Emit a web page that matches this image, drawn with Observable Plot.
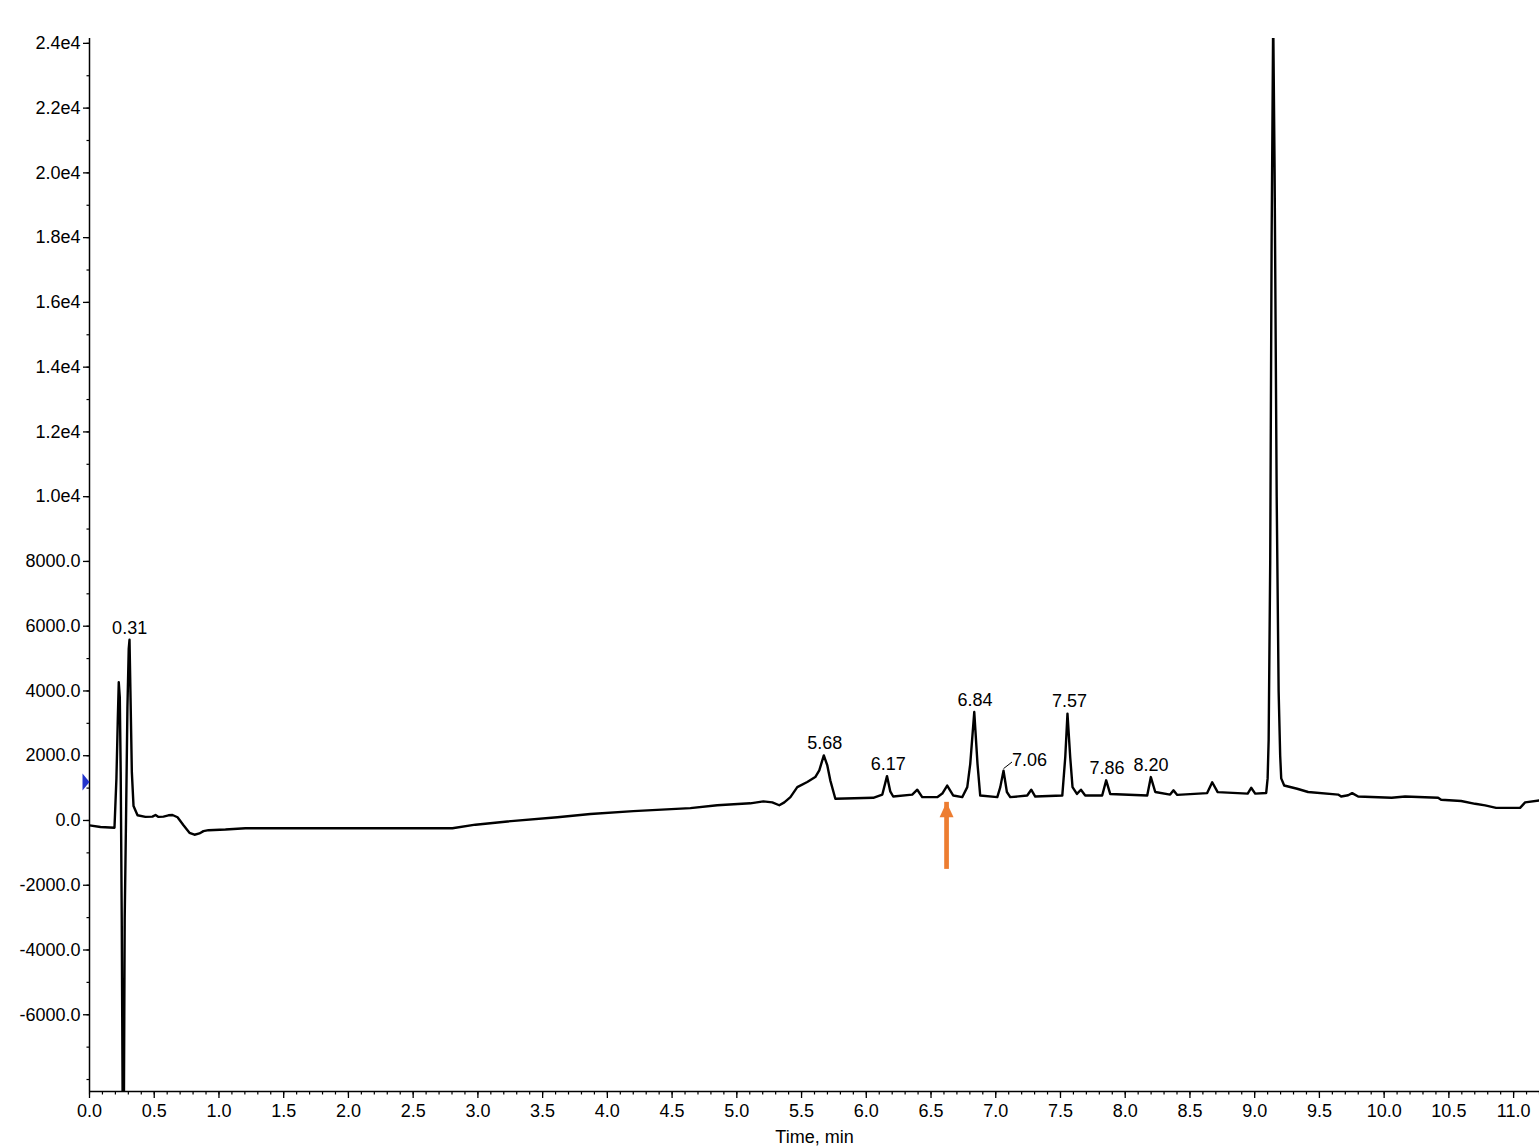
<!DOCTYPE html>
<html>
<head>
<meta charset="utf-8">
<script src="https://cdn.jsdelivr.net/npm/d3@7"></script>
<script src="https://cdn.jsdelivr.net/npm/@observablehq/plot@0.6"></script>
<style>
  html, body { margin: 0; padding: 0; background: #fff; overflow: hidden; }
  #chart svg { display: block; }
</style>
</head>
<body>
<div id="chart"></div>
<script>
// ---- Chromatogram trace (time in min, intensity in cps) ----
const times = [
  0.000, 0.085, 0.193, 0.208, 0.219, 0.226, 0.234, 0.241, 0.249, 0.257,
  0.265, 0.272, 0.282, 0.293, 0.303, 0.309, 0.317, 0.327, 0.340, 0.371,
  0.432, 0.486, 0.510, 0.533, 0.571, 0.610, 0.641, 0.680, 0.726, 0.772,
  0.811, 0.849, 0.880, 0.919, 1.050, 1.205, 2.803, 2.981, 3.228, 3.614,
  3.869, 4.201, 4.641, 4.849, 5.104, 5.205, 5.274, 5.328, 5.367, 5.414,
  5.467, 5.544, 5.606, 5.637, 5.672, 5.699, 5.722, 5.761, 6.054, 6.124,
  6.160, 6.185, 6.208, 6.355, 6.394, 6.432, 6.548, 6.587, 6.625, 6.672,
  6.741, 6.780, 6.803, 6.834, 6.859, 6.880, 7.012, 7.035, 7.060, 7.086,
  7.112, 7.243, 7.274, 7.305, 7.514, 7.537, 7.554, 7.575, 7.593, 7.627,
  7.658, 7.691, 7.822, 7.853, 7.884, 8.170, 8.198, 8.232, 8.347, 8.373,
  8.402, 8.633, 8.672, 8.714, 8.946, 8.973, 9.004, 9.089, 9.100, 9.108,
  9.120, 9.131, 9.143, 9.154, 9.170, 9.185, 9.197, 9.205, 9.228, 9.328,
  9.413, 9.645, 9.668, 9.722, 9.753, 9.799, 10.058, 10.162, 10.417, 10.440,
  10.595, 10.703, 10.780, 10.865, 11.050, 11.089, 11.200
];
const signal = [
  -150, -200, -225, 1300, 3200, 4270, 3800, 1500, -3000, -9500,
  -9500, -3000, 0, 3500, 5300, 5580, 3800, 1500, 450, 160,
  110, 120, 170, 110, 120, 160, 170, 100, -150, -380,
  -440, -400, -330, -300, -280, -240, -240, -130, -30, 100,
  200, 290, 380, 470, 530, 590, 560, 470, 560, 720,
  1030, 1190, 1340, 1550, 2010, 1700, 1240, 670, 700, 800,
  1370, 900, 740, 800, 950, 720, 720, 830, 1080, 770,
  720, 1030, 1750, 3350, 1750, 770, 720, 1030, 1540, 880,
  720, 770, 950, 740, 770, 1960, 3300, 1960, 1030, 820,
  950, 770, 770, 1240, 820, 770, 1340, 880, 800, 930,
  790, 845, 1180, 875, 830, 1010, 830, 850, 1300, 2500,
  8000, 18000, 24800, 20000, 10000, 4000, 2000, 1300, 1080, 980,
  880, 800, 740, 780, 845, 740, 700, 740, 700, 640,
  600, 515, 465, 390, 390, 560, 620
];

// ---- Peak annotations ----
const peakNames   = ["0.31", "5.68", "6.17", "6.84", "7.06", "7.57", "7.86", "8.20"];
const peakTimes   = [0.31, 5.68, 6.17, 6.84, 7.06, 7.57, 7.86, 8.20];
const peakHeights = [5580, 2010, 1370, 3350, 1540, 3300, 1240, 1340];
const leaderPeaks = ["7.06"];

// ---- Marker and arrow ----
const thresholdLevel = [1190];          // blue marker on the y axis
const arrowTime = [6.62];               // orange arrow
const arrowTip = 560;
const arrowTail = -1140;

// ---- Axes ----
const xDomain = [0, 11.2];
const yDomain = [-8370, 24150];
const xMajorTicks = [0, 0.5, 1, 1.5, 2, 2.5, 3, 3.5, 4, 4.5, 5, 5.5, 6, 6.5, 7, 7.5, 8, 8.5, 9, 9.5, 10, 10.5, 11];
const xMinorTicks = d3.range(0, 113).map(i => i / 10);
const yMajorTicks = [-6000, -4000, -2000, 0, 2000, 4000, 6000, 8000, 10000, 12000, 14000, 16000, 18000, 20000, 22000, 24000];
const yMinorTicks = d3.range(-8, 25).map(i => i * 1000);
const xLabel = "Time, min";

const trace = times.map((t, i) => ({t, v: signal[i]}));
const peaks = peakNames.map((name, i) => ({name, t: peakTimes[i], v: peakHeights[i]}));

const yFmt = v => Math.abs(v) >= 10000 ? (v / 1e4).toFixed(1) + "e4" : v.toFixed(1);
const xFmt = v => v.toFixed(1);
const noFmt = () => "";

const arrowHead = {draw(ctx) { ctx.moveTo(0, 0); ctx.lineTo(-7, 15); ctx.lineTo(7, 15); ctx.closePath(); }};
const sideMarker = {draw(ctx) { ctx.moveTo(0, 0); ctx.lineTo(-7, -8.5); ctx.lineTo(-7, 8.5); ctx.closePath(); }};
const leader = {draw(ctx) { ctx.moveTo(0, -2); ctx.lineTo(8.5, -8.6); }};

const font = "'Liberation Sans', Arial, sans-serif";

const chart = Plot.plot({
  width: 1539,
  height: 1147,
  marginTop: 38,
  marginRight: 0,
  marginBottom: 56,
  marginLeft: 89,
  style: {fontFamily: font, fontSize: "18px", color: "black", background: "white", overflow: "visible"},
  x: {domain: xDomain, label: null},
  y: {domain: yDomain, label: null},
  marks: [
    Plot.axisX(xMinorTicks, {tickSize: 3.5, tickFormat: noFmt, label: null, strokeWidth: 1.2}),
    Plot.axisX(xMajorTicks, {tickSize: 7, tickPadding: 6, tickFormat: xFmt, label: null, fontSize: 18, strokeWidth: 1.3}),
    Plot.axisY(yMinorTicks, {tickSize: 2.5, tickFormat: noFmt, label: null, strokeWidth: 1.2}),
    Plot.axisY(yMajorTicks, {tickSize: 6, tickPadding: 3, tickFormat: yFmt, label: null, fontSize: 18, strokeWidth: 1.3}),
    Plot.ruleX([xDomain[0]], {stroke: "black", strokeWidth: 1.5}),
    Plot.ruleY([yDomain[0]], {stroke: "black", strokeWidth: 1.5}),
    Plot.text([xLabel], {frameAnchor: "bottom", dy: 51, fontSize: 18, fill: "black"}),
    Plot.line(trace, {x: "t", y: "v", stroke: "black", strokeWidth: 2.4, clip: true, strokeLinejoin: "round"}),
    Plot.text(peaks.filter(d => !leaderPeaks.includes(d.name)), {x: "t", y: "v", text: "name", dy: -12, fontSize: 18, fill: "black"}),
    Plot.text(peaks.filter(d => leaderPeaks.includes(d.name)), {x: "t", y: "v", text: "name", dx: 26, dy: -10, fontSize: 18, fill: "black"}),
    Plot.dot(peaks.filter(d => leaderPeaks.includes(d.name)), {x: "t", y: "v", symbol: leader, r: 5, stroke: "black", strokeWidth: 1, fill: "none"}),
    Plot.ruleX(arrowTime, {x: d => d, y1: arrowTail, y2: arrowTip, insetTop: 12, stroke: "#ED7D31", strokeWidth: 4.7}),
    Plot.dot(arrowTime, {x: d => d, y: arrowTip, symbol: arrowHead, r: 8, fill: "#ED7D31", stroke: "none"}),
    Plot.dot(thresholdLevel, {x: xDomain[0], y: d => d, symbol: sideMarker, r: 8, fill: "#2233cc", stroke: "none"})
  ]
});
document.getElementById("chart").appendChild(chart);
</script>
</body>
</html>
